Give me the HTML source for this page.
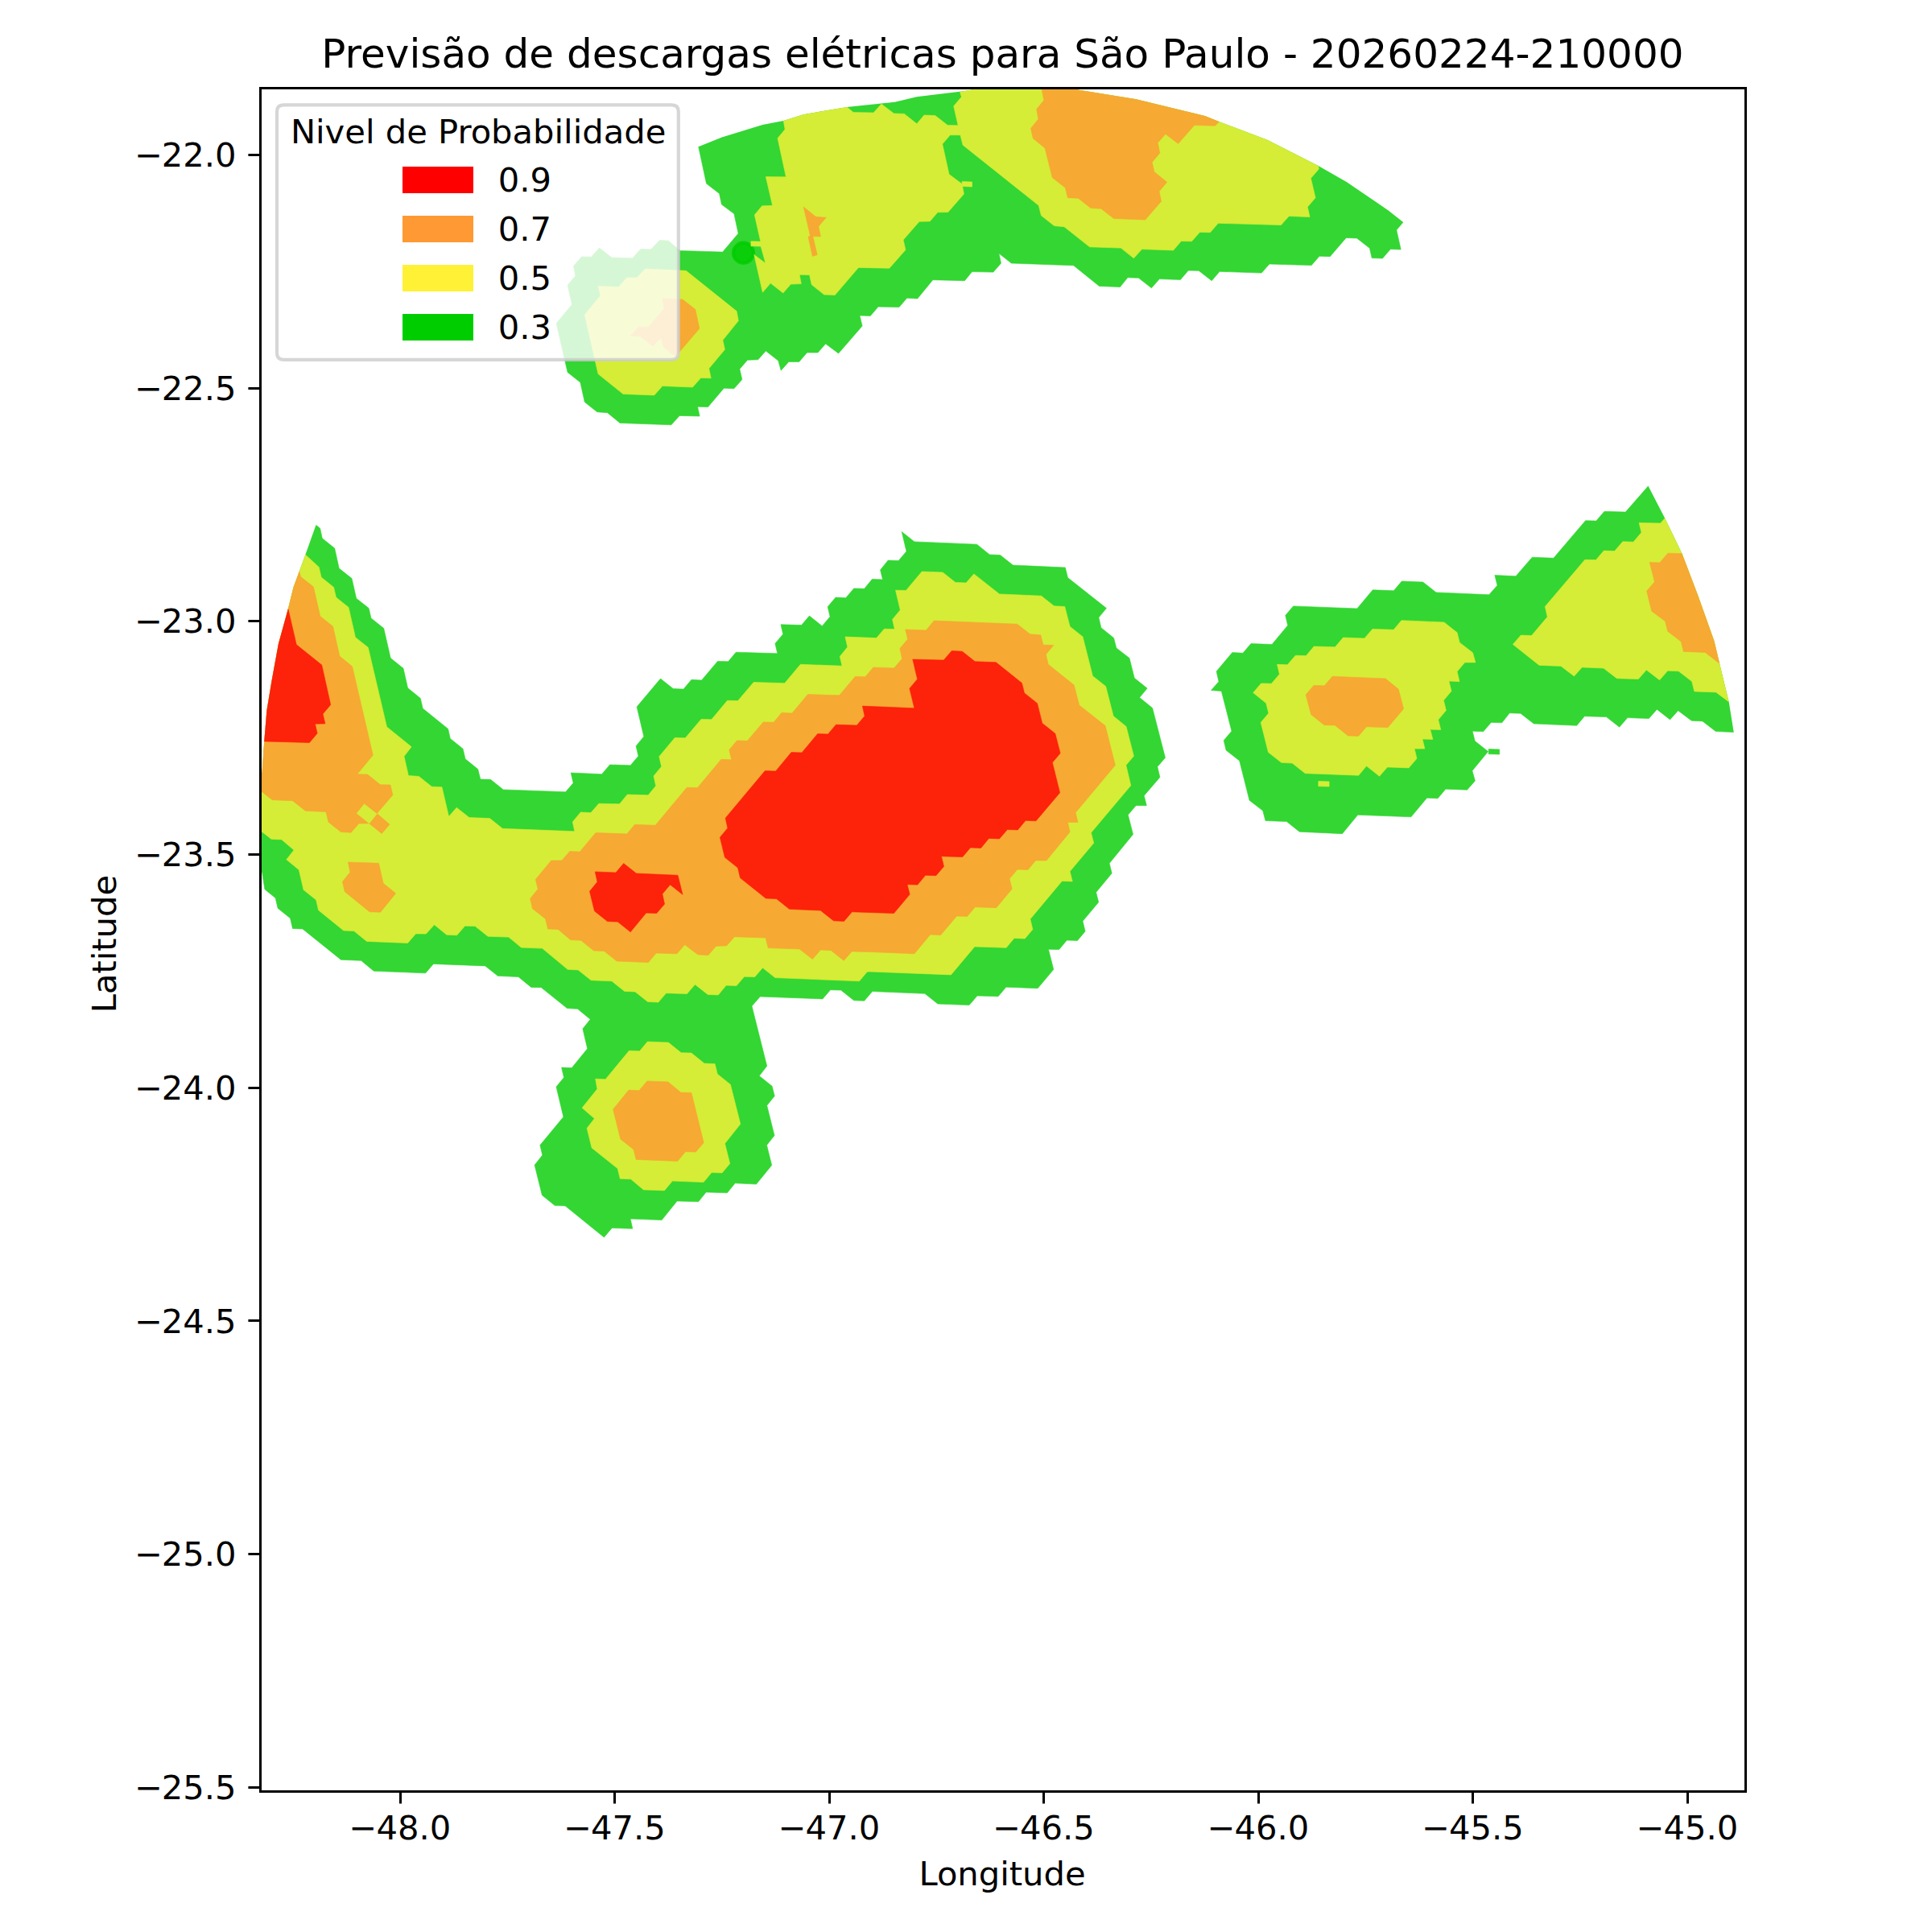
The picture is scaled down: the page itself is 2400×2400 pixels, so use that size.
<!DOCTYPE html>
<html lang="pt-BR">
<head>
<meta charset="utf-8">
<title>Previsão de descargas elétricas para São Paulo</title>
<style>
html,body{margin:0;padding:0;background:#fff;}
body{width:2400px;height:2400px;overflow:hidden;}
svg{display:block;}
text{font-family:"DejaVu Sans","Liberation Sans",sans-serif;fill:#000;}
.t{font-size:41.667px;}
.title{font-size:50px;}
</style>
</head>
<body>
<svg width="2400" height="2400" viewBox="0 0 2400 2400">
<rect x="0" y="0" width="2400" height="2400" fill="#ffffff"/>
<defs>
<clipPath id="axclip"><rect x="323.5" y="109.5" width="1845.0" height="2116.0"/></clipPath>
<clipPath id="range"><polygon points="300.0,1400.0 300.0,985.0 325.6,959.2 328.3,919.9 331.4,882.6 337.6,845.3 345.9,799.8 357.9,756.3 364.5,729.4 371.8,709.7 379.4,689.0 392.5,652.2 426.3,573.1 468.2,497.5 518.3,426.9 576.3,362.4 641.4,305.2 712.6,256.0 788.5,215.0 867.7,182.3 896.9,170.4 947.4,155.1 973.3,149.9 997.9,142.2 1052.2,132.9 1094.9,128.5 1111.7,126.7 1138.9,120.2 1194.6,113.5 1207.5,111.6 1207.5,95.0 1338.8,95.0 1338.8,111.6 1411.3,123.3 1496.7,144.0 1514.8,151.2 1574.3,173.8 1637.7,206.1 1672.7,226.0 1724.4,261.2 1743.1,276.0 1792.6,303.7 1840.1,335.3 1884.8,371.1 1925.8,411.1 1962.7,455.0 1995.2,502.2 2023.3,552.1 2047.5,603.8 2068.2,643.8 2089.5,687.7 2109.2,739.4 2129.5,796.4 2136.1,824.3 2147.7,871.9 2153.7,909.6 2175.0,1000.0 2300.0,1400.0 1237.0,2300.0"/></clipPath>
</defs>
<g clip-path="url(#axclip)"><g clip-path="url(#range)">
<g fill="#33d633" stroke="#33d633" stroke-width="0.6" stroke-linejoin="round">
<polygon points="867.7,182.3 850.0,95.0 1765.0,95.0 1743.1,276.0 1734.8,285.8 1740.2,309.9 1727.3,309.6 1717.4,321.0 1704.2,320.5 1701.4,308.3 1685.6,295.9 1672.2,295.4 1652.2,318.7 1639.0,318.2 1629.2,329.6 1576.9,328.0 1567.1,339.1 1515.1,337.3 1505.2,348.7 1489.2,336.3 1476.2,336.0 1466.4,347.4 1440.3,346.6 1430.4,357.8 1414.4,345.3 1400.9,344.8 1391.4,356.5 1365.5,355.4 1333.6,329.8 1256.4,327.0 1240.9,314.8 1243.5,327.0 1233.9,338.1 1207.5,337.6 1198.4,348.7 1158.8,347.7 1139.7,371.0 1126.7,370.2 1116.9,381.6 1091.0,381.1 1081.2,392.4 1068.0,391.9 1071.1,404.9 1041.6,439.0 1025.6,427.1 1016.0,438.0 1002.5,438.0 992.7,449.4 979.8,449.4 970.2,460.2 966.8,448.1 951.3,435.9 941.7,446.8 928.5,447.3 918.9,458.4 921.8,471.4 911.8,482.8 899.3,482.2 879.5,505.6 866.6,505.2 869.1,517.0 844.1,516.4 833.9,527.8 770.1,525.5 754.6,512.7 741.8,511.8 726.3,499.4 720.9,475.0 705.1,462.5 691.1,401.7 710.5,378.3 705.1,354.3 714.9,342.5 712.4,330.5 722.5,318.9 734.7,319.1 744.5,307.9 760.0,319.9 785.7,320.7 796.0,309.3 808.7,309.8 819.4,298.4 830.4,299.0 844.9,311.4 897.7,313.1 917.1,290.1 911.9,265.6 896.4,254.0 893.6,240.5 877.5,228.1"/>
<polygon points="392.5,652.2 397.6,656.3 400.3,668.7 415.7,681.1 421.2,706.0 437.0,718.6 442.6,743.3 458.1,755.5 461.0,767.9 476.7,780.5 485.2,817.6 501.0,830.2 506.5,854.6 522.3,867.5 525.2,880.1 556.6,905.4 559.3,917.4 575.1,930.2 578.0,942.8 593.7,955.5 596.8,968.1 609.4,968.3 625.2,980.9 702.6,983.8 712.1,972.7 709.2,960.0 747.6,961.7 757.6,949.9 783.2,950.8 793.0,939.2 790.1,926.7 799.8,914.9 791.1,878.1 820.5,843.1 836.2,855.5 849.1,856.1 859.0,844.3 871.6,845.0 891.5,821.4 904.6,821.8 914.3,810.2 965.8,811.8 962.9,799.4 972.7,787.8 970.0,775.8 995.7,776.6 1005.4,765.1 1021.3,777.7 1031.1,766.1 1028.2,753.7 1038.1,742.1 1050.7,742.7 1060.7,730.9 1073.7,731.3 1083.4,719.5 1096.5,719.9 1093.6,707.9 1103.2,696.1 1116.2,696.5 1126.0,684.9 1120.2,660.5 1135.9,672.9 1213.5,676.2 1229.3,688.9 1242.5,689.5 1258.3,702.1 1323.3,705.0 1326.4,717.6 1374.4,755.5 1364.9,767.1 1367.8,779.8 1383.5,792.4 1386.8,805.0 1403.0,817.6 1409.2,842.3 1425.1,855.1 1415.6,866.5 1431.6,879.5 1447.5,941.2 1437.8,952.6 1440.9,965.5 1421.2,988.4 1424.3,1000.7 1411.1,1000.7 1401.3,1012.3 1407.5,1036.5 1378.1,1072.4 1381.2,1084.8 1361.6,1108.4 1364.7,1120.8 1345.0,1144.2 1348.1,1156.9 1338.4,1168.4 1325.3,1168.0 1315.6,1179.6 1302.4,1179.2 1308.8,1204.3 1289.1,1227.7 1249.8,1226.2 1240.0,1237.8 1214.0,1237.0 1204.0,1248.6 1164.9,1247.1 1148.9,1234.3 1083.7,1231.6 1073.7,1243.2 1060.7,1242.8 1044.7,1230.1 1031.5,1229.7 1021.9,1240.9 944.3,1238.0 934.0,1249.8 952.7,1324.3 943.2,1336.5 959.1,1349.3 962.2,1361.5 952.7,1373.3 962.0,1410.6 952.5,1422.6 958.7,1447.5 939.5,1471.1 913.2,1469.8 903.4,1481.8 877.1,1481.0 867.6,1492.8 841.1,1492.0 822.1,1515.6 783.1,1514.1 785.8,1526.3 760.2,1525.5 750.4,1537.1 702.2,1498.0 689.2,1497.6 673.4,1484.7 664.1,1447.2 673.8,1435.0 670.9,1422.6 699.9,1387.4 691.0,1350.1 700.5,1338.6 697.6,1326.1 710.3,1326.5 729.7,1302.7 723.9,1277.9 733.3,1266.3 717.5,1253.3 704.5,1252.6 672.4,1226.8 659.8,1226.4 644.0,1213.5 618.3,1212.3 602.8,1199.9 538.4,1197.4 528.7,1208.8 464.3,1206.3 448.6,1193.3 423.5,1192.2 375.9,1153.9 363.5,1153.5 360.6,1140.7 345.1,1128.2 342.2,1115.6 328.9,1104.8 325.6,1083.5 300.0,1083.0 300.0,650.0"/>
<polygon points="1504.5,857.6 1514.0,846.7 1511.1,834.0 1530.8,810.6 1544.0,811.3 1554.0,799.5 1580.1,800.5 1599.7,776.9 1596.8,764.5 1606.6,752.9 1685.9,756.0 1705.3,732.8 1731.4,733.8 1741.3,722.0 1767.6,723.1 1784.0,735.9 1849.8,738.8 1860.0,727.2 1856.9,714.6 1883.0,715.8 1903.4,692.2 1929.9,693.3 1969.6,646.7 1982.9,647.1 1993.0,635.3 2019.3,636.1 2047.5,603.8 2200.0,600.0 2200.0,910.0 2153.7,909.6 2131.3,908.6 2115.0,895.9 2101.3,895.3 2084.6,882.7 2074.6,893.9 2058.3,881.2 2048.3,892.6 2021.8,891.6 2011.7,903.2 1995.5,890.6 1968.4,889.7 1958.7,901.3 1905.3,899.0 1888.9,886.2 1875.2,885.8 1865.8,897.8 1852.3,897.4 1842.6,908.8 1829.1,908.2 1832.2,920.6 1848.6,933.6 1828.9,957.4 1832.4,969.9 1822.5,981.2 1795.8,980.2 1786.1,991.8 1772.6,991.2 1752.9,1014.8 1686.7,1012.3 1667.4,1035.7 1614.2,1033.2 1598.3,1020.6 1572.0,1019.5 1568.7,1007.1 1552.1,994.3 1539.7,945.0 1523.1,932.0 1520.2,919.8 1530.0,908.2 1517.3,858.5"/>
<polygon points="1849.2,930.5 1862.7,930.9 1862.7,937.1 1849.2,936.7"/>
</g>
<circle cx="923.5" cy="314.2" r="12.5" fill="#00cc00" fill-opacity="0.8" stroke="#00cc00" stroke-opacity="0.8" stroke-width="4.167"/>
<g fill="#d5ed36" stroke="#d5ed36" stroke-width="0.6" stroke-linejoin="round">
<polygon points="973.3,149.9 970.7,133.6 1050.9,118.1 1052.2,132.9 1060.0,139.6 1085.1,140.1 1094.9,129.2 1110.4,140.9 1123.4,141.4 1138.9,153.8 1148.0,143.0 1161.7,143.5 1177.2,155.6 1198.4,155.9 1201.0,167.8 1180.3,167.8 1170.7,178.9 1179.0,216.5 1195.1,228.6 1197.4,241.0 1177.7,263.6 1164.8,263.8 1155.2,274.9 1142.0,275.2 1122.1,298.0 1124.9,310.4 1104.8,333.2 1066.4,332.4 1037.2,366.6 1023.7,366.0 1008.2,353.6 1005.6,341.5 993.2,341.2 995.3,352.6 982.3,353.1 972.8,364.0 957.2,351.8 947.4,363.2 936.8,316.4 951.0,327.0 945.1,306.0 932.9,305.7 932.9,299.8 944.8,300.1 937.3,266.9 946.6,255.8 959.6,255.3 951.3,219.6 976.4,219.8 966.0,171.7 975.1,160.8"/>
<polygon points="1192.5,114.0 1192.5,89.6 1662.3,89.6 1637.7,206.1 1638.3,210.0 1628.4,221.4 1634.1,245.7 1624.3,257.1 1627.1,269.5 1601.2,268.5 1591.4,279.6 1513.3,277.3 1503.4,288.7 1490.5,288.4 1480.4,299.8 1467.4,299.5 1457.6,310.9 1418.5,309.6 1408.4,320.8 1392.4,308.1 1353.6,306.8 1322.0,281.7 1309.6,280.6 1293.4,267.7 1290.3,255.3 1196.1,180.2 1193.0,168.1 1190.2,155.9 1184.7,131.8 1194.3,120.4"/>
<polygon points="852.3,336.3 801.4,334.0 791.3,344.9 778.6,344.9 768.5,356.5 743.2,355.5 745.9,367.3 726.3,390.9 743.0,464.6 774.1,489.5 812.8,490.9 822.9,479.5 860.4,481.0 870.6,469.4 883.2,469.8 880.7,457.8 900.4,434.2 897.9,422.6 917.3,398.4 915.1,386.6"/>
<polygon points="379.4,689.0 396.2,704.5 399.1,717.0 414.6,729.6 417.5,742.0 433.0,754.4 441.5,791.7 457.3,804.3 480.5,902.9 511.1,927.7 502.0,939.5 507.4,963.5 520.4,964.4 536.4,977.2 549.0,977.8 557.5,1014.3 567.2,1003.2 582.9,1015.6 608.4,1016.6 624.3,1029.3 713.8,1032.8 711.3,1021.0 721.3,1008.9 734.0,1009.6 743.9,998.2 769.6,998.8 779.3,987.0 805.2,987.8 814.7,976.2 812.0,964.0 821.7,952.2 818.8,939.8 838.3,916.4 851.3,916.8 871.0,893.4 883.9,893.8 903.5,870.2 916.6,870.6 936.2,847.5 974.7,848.7 994.4,825.3 1046.0,827.2 1043.3,815.4 1052.8,803.8 1049.9,791.1 1088.8,792.6 1098.4,781.2 1111.3,781.6 1108.6,769.4 1118.3,757.8 1112.5,733.2 1125.5,733.4 1145.2,710.0 1171.1,711.0 1186.8,723.4 1200.1,724.1 1209.8,712.9 1241.5,737.9 1293.5,740.2 1309.4,752.8 1322.7,753.5 1329.1,778.3 1345.0,790.9 1357.4,839.8 1373.6,852.6 1383.1,889.5 1399.0,902.5 1408.4,939.2 1398.8,950.6 1404.8,975.8 1355.4,1034.4 1358.7,1047.3 1329.1,1082.5 1332.2,1094.9 1319.3,1094.5 1279.8,1141.7 1282.9,1154.6 1273.2,1166.0 1259.9,1165.5 1250.0,1177.3 1210.8,1175.9 1181.4,1210.9 1080.0,1207.0 1077.2,1207.2 1067.5,1218.8 962.9,1214.6 947.4,1202.2 937.7,1213.6 924.6,1213.2 914.9,1224.6 902.1,1224.1 892.3,1235.9 879.3,1235.5 863.4,1222.9 853.4,1234.5 827.5,1233.7 817.8,1245.1 804.6,1244.4 789.0,1232.0 775.8,1231.4 760.0,1218.8 734.2,1217.7 718.2,1204.9 705.2,1204.3 673.6,1178.1 647.5,1177.1 631.8,1164.1 606.1,1163.2 590.2,1150.6 577.6,1150.2 567.6,1161.8 554.8,1161.2 539.5,1148.7 529.3,1160.1 516.5,1159.9 506.5,1171.5 455.6,1169.4 439.7,1156.6 426.8,1156.0 395.6,1130.7 392.7,1117.9 377.1,1105.5 371.3,1080.6 355.8,1067.8 365.1,1056.0 349.8,1042.9 337.2,1042.5 325.6,1033.4 300.0,1033.0 300.0,689.0"/>
<polygon points="739.7,1340.2 752.1,1340.8 781.5,1305.2 794.5,1305.8 804.3,1294.0 830.4,1295.1 846.1,1307.7 858.9,1308.1 874.9,1321.0 888.1,1321.6 891.2,1334.2 907.4,1347.2 919.8,1396.3 900.5,1420.5 906.7,1445.4 897.0,1457.0 884.0,1456.6 874.0,1468.6 835.3,1467.1 825.4,1478.9 799.3,1477.9 783.6,1464.8 770.3,1464.2 767.2,1451.6 735.1,1425.9 729.1,1401.5 738.4,1389.5 723.1,1376.2 741.9,1352.8"/>
<polygon points="1556.7,860.5 1566.6,848.9 1579.4,849.2 1589.4,837.6 1586.5,825.3 1599.3,825.8 1609.3,814.2 1622.5,814.6 1632.2,803.0 1658.5,803.8 1668.5,792.0 1695.0,793.0 1704.9,781.4 1731.2,782.3 1740.9,770.7 1793.9,773.0 1810.1,785.8 1813.2,798.2 1829.5,810.8 1832.9,822.9 1819.6,822.9 1810.1,834.2 1813.0,846.7 1799.9,846.0 1803.0,858.5 1793.3,870.1 1796.4,882.5 1786.7,894.1 1789.8,906.5 1776.7,906.1 1779.9,918.5 1767.0,918.1 1769.9,930.1 1757.1,930.1 1760.0,942.3 1750.0,953.9 1723.5,952.9 1713.6,964.3 1697.5,951.6 1687.7,963.2 1621.3,960.7 1605.3,948.1 1591.7,947.3 1575.5,934.5 1566.2,897.4 1575.9,886.0 1572.8,873.6"/>
<polygon points="1879.4,800.5 1889.3,789.1 1902.6,789.5 1922.2,766.3 1919.3,753.5 1968.8,695.3 1982.5,695.5 1992.4,684.1 2005.7,684.6 2015.8,672.8 2029.1,673.2 2039.0,661.4 2036.1,649.4 2062.6,650.0 2068.2,643.8 2200.0,640.0 2200.0,872.0 2147.7,871.9 2131.6,859.9 2104.8,858.9 2101.7,846.5 2085.2,833.8 2071.7,833.2 2061.6,844.8 2045.2,832.2 2035.3,843.6 2008.4,842.7 1992.0,830.1 1965.3,828.9 1955.4,840.0 1939.0,827.4 1912.1,826.4"/>
<polygon points="1195.1,225.5 1207.5,226.0 1207.5,232.0 1195.1,231.5"/>
<polygon points="1637.8,970.5 1651.1,970.9 1651.1,977.1 1637.8,976.7"/>
</g>
<g fill="#f6a933" stroke="#f6a933" stroke-width="0.6" stroke-linejoin="round">
<polygon points="1294.2,111.6 1294.2,89.6 1532.9,89.6 1532.9,125.9 1514.3,151.2 1509.6,156.2 1483.7,155.6 1463.6,178.4 1447.8,166.5 1438.2,177.6 1440.8,190.1 1431.2,201.4 1433.8,213.4 1449.6,226.3 1440.0,237.7 1442.6,250.1 1422.7,273.1 1383.6,271.6 1367.8,259.2 1355.1,258.6 1339.3,246.2 1326.4,245.7 1323.3,233.3 1307.2,220.6 1298.1,184.1 1283.3,171.9 1280.5,159.5 1289.8,147.9 1287.7,135.5 1296.8,124.6"/>
<polygon points="998.2,257.0 1013.5,269.3 1026.3,270.2 1016.8,281.2 1019.4,293.8 1009.8,293.6 1015.2,316.6 1009.3,318.5 1004.0,294.1 1006.5,293.1"/>
<polygon points="823.1,371.0 848.0,371.9 863.7,384.3 868.9,408.1 839.1,443.1 824.2,431.1 821.1,419.5 811.1,430.0 795.4,417.8 783.2,417.2 793.5,406.2 805.5,406.4 825.0,383.3"/>
<polygon points="371.8,709.7 373.6,716.5 389.4,729.0 397.8,765.6 413.6,778.2 421.9,815.1 437.6,827.9 463.3,938.1 443.8,961.7 456.6,962.1 472.4,974.7 485.0,975.1 487.9,987.6 468.2,1010.5 484.0,1024.1 474.2,1035.5 458.7,1022.9 445.9,1022.9 436.1,1034.2 423.5,1033.6 408.0,1021.2 404.9,1008.4 379.4,1007.3 363.5,994.7 338.2,993.7 325.6,983.7 300.0,983.0 300.0,710.0"/>
<polygon points="432.4,1070.9 470.5,1072.3 476.1,1097.2 491.6,1109.8 472.6,1133.2 459.1,1132.8 428.3,1107.7 425.4,1095.3 434.9,1083.5"/>
<polygon points="658.7,1116.2 668.2,1104.4 665.3,1092.4 684.8,1069.0 697.8,1069.0 707.8,1057.6 720.3,1058.1 740.0,1034.5 778.7,1035.9 788.6,1024.3 814.1,1025.2 853.2,978.3 866.5,978.5 895.9,943.3 908.7,943.7 905.8,931.5 915.5,919.9 928.4,920.3 948.2,896.9 961.1,897.3 971.0,885.3 983.9,886.0 1003.5,862.6 1042.7,863.8 1062.3,840.4 1074.9,840.8 1084.9,829.0 1110.6,829.9 1120.6,818.3 1117.9,805.6 1127.6,794.0 1124.7,782.0 1150.4,782.9 1160.3,771.1 1263.6,775.2 1279.6,787.8 1292.8,788.7 1295.9,801.1 1308.8,801.5 1299.3,813.1 1302.2,825.3 1334.2,851.0 1340.7,876.0 1373.0,901.5 1385.4,950.6 1336.1,1009.6 1339.0,1021.6 1326.4,1021.4 1329.1,1033.4 1299.9,1069.1 1286.6,1068.9 1276.9,1080.5 1263.9,1080.0 1254.1,1091.6 1257.2,1104.3 1237.6,1127.7 1211.3,1126.8 1201.5,1138.4 1188.5,1138.0 1168.6,1161.6 1155.6,1161.0 1135.9,1184.8 1080.0,1182.5 1058.2,1181.9 1048.2,1193.3 1032.3,1180.7 1019.3,1180.0 1009.3,1191.6 993.2,1179.0 954.2,1177.6 951.1,1165.1 912.4,1163.7 902.5,1174.9 889.6,1175.3 879.7,1186.7 866.7,1185.8 850.7,1173.6 840.8,1184.8 815.1,1184.0 805.4,1195.6 766.3,1194.1 750.5,1181.5 737.5,1180.9 721.7,1168.2 708.7,1167.6 693.3,1154.5 680.5,1153.9 677.6,1141.5 661.4,1128.7"/>
<polygon points="781.1,1354.1 793.9,1354.7 803.9,1342.9 829.9,1343.9 845.7,1357.0 858.9,1357.4 874.2,1419.5 864.3,1431.1 851.5,1430.7 841.7,1442.5 790.2,1440.4 786.9,1427.8 770.9,1415.2 761.6,1378.1"/>
<polygon points="1622.1,863.0 1632.0,851.4 1645.3,851.8 1655.2,840.2 1721.1,842.9 1737.2,856.0 1743.6,880.4 1724.0,903.8 1697.5,902.8 1687.5,914.4 1674.5,914.0 1658.3,901.1 1645.1,900.7 1628.7,887.7"/>
<polygon points="2049.2,698.6 2061.8,699.0 2071.9,687.2 2089.5,687.7 2200.0,688.0 2200.0,824.0 2136.1,824.3 2118.1,810.4 2091.4,809.4 2088.3,797.0 2071.7,784.3 2068.6,771.7 2051.8,759.3 2045.6,734.2 2055.4,722.7"/>
</g>
<g fill="#d5ed36" stroke="#d5ed36" stroke-width="0.6" stroke-linejoin="round">
<polygon points="452.5,998.8 468.2,1011.1 458.7,1022.9 443.2,1010.4"/>
</g>
<g fill="#fd220a" stroke="#fd220a" stroke-width="0.6" stroke-linejoin="round">
<polygon points="357.9,756.3 368.2,800.8 399.7,826.1 410.7,875.5 401.0,886.9 403.9,898.9 391.4,899.2 394.1,911.0 384.4,922.5 328.3,920.9 300.0,921.0 300.0,756.0"/>
<polygon points="739.3,1082.9 765.0,1084.0 774.7,1072.6 790.5,1085.0 842.0,1087.3 848.0,1111.3 832.5,1098.9 822.8,1110.5 825.5,1123.1 815.7,1134.5 802.7,1134.1 783.2,1157.7 767.3,1145.1 754.5,1144.6 738.5,1131.8 732.5,1107.2 742.0,1095.6"/>
<polygon points="901.2,1016.2 950.3,957.6 963.6,958.0 983.0,934.6 996.1,935.0 1015.7,911.6 1028.6,912.0 1038.5,900.2 1064.4,901.1 1074.1,889.5 1071.4,877.1 1135.9,879.8 1129.9,855.3 1139.6,843.7 1133.8,819.1 1172.3,820.1 1182.3,808.5 1195.3,809.2 1211.1,821.8 1237.3,822.8 1269.4,848.5 1272.5,860.9 1288.5,873.7 1294.7,898.4 1310.8,911.2 1317.1,935.7 1307.3,947.2 1316.6,984.7 1287.0,1019.7 1274.0,1019.3 1264.3,1030.9 1251.4,1030.5 1241.5,1041.9 1228.4,1041.5 1218.5,1053.5 1205.5,1052.9 1195.7,1064.5 1169.4,1063.7 1172.5,1076.3 1162.8,1087.7 1149.6,1087.3 1139.8,1099.1 1127.0,1098.7 1130.1,1111.1 1110.4,1134.5 1080.0,1133.5 1058.4,1132.8 1048.4,1144.4 1035.4,1143.8 1019.3,1131.0 980.5,1129.3 964.6,1116.5 951.3,1115.9 919.5,1090.6 916.6,1078.0 900.4,1065.1 894.4,1040.3 903.9,1028.7"/>
</g>
</g>
</g>
<g stroke="#000" stroke-width="3" fill="none">
<line x1="497.5" y1="2225.5" x2="497.5" y2="2240.50"/>
<line x1="763.5" y1="2225.5" x2="763.5" y2="2240.50"/>
<line x1="1030.5" y1="2225.5" x2="1030.5" y2="2240.50"/>
<line x1="1296.5" y1="2225.5" x2="1296.5" y2="2240.50"/>
<line x1="1563.5" y1="2225.5" x2="1563.5" y2="2240.50"/>
<line x1="1829.5" y1="2225.5" x2="1829.5" y2="2240.50"/>
<line x1="2096.5" y1="2225.5" x2="2096.5" y2="2240.50"/>
<line x1="323.5" y1="192.5" x2="308.40" y2="192.5"/>
<line x1="323.5" y1="482.5" x2="308.40" y2="482.5"/>
<line x1="323.5" y1="771.5" x2="308.40" y2="771.5"/>
<line x1="323.5" y1="1061.5" x2="308.40" y2="1061.5"/>
<line x1="323.5" y1="1351.5" x2="308.40" y2="1351.5"/>
<line x1="323.5" y1="1640.5" x2="308.40" y2="1640.5"/>
<line x1="323.5" y1="1930.5" x2="308.40" y2="1930.5"/>
<line x1="323.5" y1="2220.5" x2="308.40" y2="2220.5"/>
<rect x="323.5" y="109.5" width="1845.0" height="2116.0" stroke-linejoin="miter"/>
</g>
<text class="t" x="496.90" y="2284.9" text-anchor="middle" dx="0 -1.1">−48.0</text>
<text class="t" x="763.42" y="2284.9" text-anchor="middle" dx="0 -1.1">−47.5</text>
<text class="t" x="1029.95" y="2284.9" text-anchor="middle" dx="0 -1.1">−47.0</text>
<text class="t" x="1296.47" y="2284.9" text-anchor="middle" dx="0 -1.1">−46.5</text>
<text class="t" x="1563.00" y="2284.9" text-anchor="middle" dx="0 -1.1">−46.0</text>
<text class="t" x="1829.53" y="2284.9" text-anchor="middle" dx="0 -1.1">−45.5</text>
<text class="t" x="2096.05" y="2284.9" text-anchor="middle" dx="0 -1.1">−45.0</text>
<text class="t" x="293.5" y="206.80" text-anchor="end" dx="0 -1.4">−22.0</text>
<text class="t" x="293.5" y="496.55" text-anchor="end" dx="0 -1.4">−22.5</text>
<text class="t" x="293.5" y="786.30" text-anchor="end" dx="0 -1.4">−23.0</text>
<text class="t" x="293.5" y="1076.05" text-anchor="end" dx="0 -1.4">−23.5</text>
<text class="t" x="293.5" y="1365.80" text-anchor="end" dx="0 -1.4">−24.0</text>
<text class="t" x="293.5" y="1655.55" text-anchor="end" dx="0 -1.4">−24.5</text>
<text class="t" x="293.5" y="1945.30" text-anchor="end" dx="0 -1.4">−25.0</text>
<text class="t" x="293.5" y="2235.05" text-anchor="end" dx="0 -1.4">−25.5</text>
<text class="title" x="1245.4" y="84" text-anchor="middle" letter-spacing="0.02">Previsão de descargas elétricas para São Paulo - 20260224-210000</text>
<text class="t" x="1245" y="2341.8" text-anchor="middle">Longitude</text>
<text class="t" transform="translate(143.9,1172.6) rotate(-90)" text-anchor="middle">Latitude</text>
<path d="M352.33,130.4 L834.47,130.4 Q842.8,130.4 842.8,138.73 L842.8,438.57 Q842.8,446.9 834.47,446.9 L352.33,446.9 Q344.0,446.9 344.0,438.57 L344.0,138.73 Q344.0,130.4 352.33,130.4 Z" fill="#ffffff" fill-opacity="0.8" stroke="#cccccc" stroke-opacity="0.8" stroke-width="4.167"/>
<text class="t" x="594.1" y="178.2" text-anchor="middle">Nivel de Probabilidade</text>
<rect x="500" y="207" width="88" height="33" fill="#ff0000"/>
<text class="t" x="618.8" y="237.7">0.9</text>
<rect x="500" y="268" width="88" height="33" fill="#ff9933"/>
<text class="t" x="618.8" y="298.7">0.7</text>
<rect x="500" y="329" width="88" height="33" fill="#fff136"/>
<text class="t" x="618.8" y="359.7">0.5</text>
<rect x="500" y="390" width="88" height="33" fill="#00cd00"/>
<text class="t" x="618.8" y="420.7">0.3</text>
</svg>
</body>
</html>
